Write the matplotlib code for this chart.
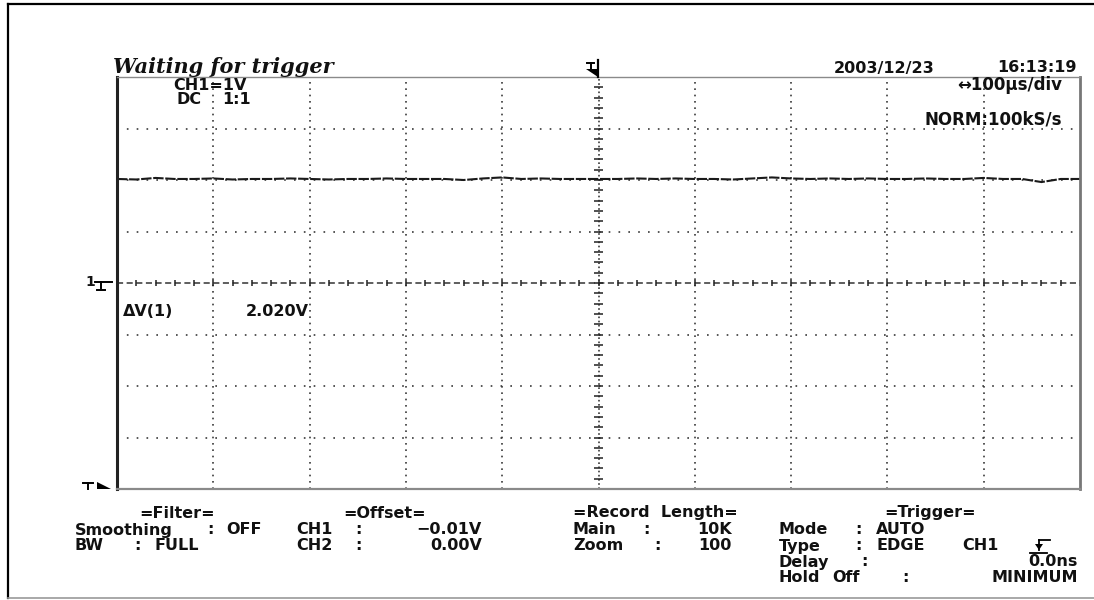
import matplotlib
matplotlib.use("Agg")
import matplotlib.pyplot as plt
from matplotlib.lines import Line2D
from matplotlib.patches import Polygon

# ---- captured record: CH1, 100 us/div, 1 V/div ----
time_us = list(range(-500, 501, 20))
ch1_volts = [
    2.02, 2.01, 2.04, 2.02, 2.02, 2.03, 2.01, 2.02, 2.02, 2.03,
    2.02, 2.01, 2.02, 2.02, 2.03, 2.02, 2.02, 2.02, 2.00, 2.03,
    2.05, 2.02, 2.03, 2.02, 2.02, 2.02, 2.02, 2.03, 2.02, 2.03,
    2.02, 2.02, 2.01, 2.03, 2.05, 2.03, 2.02, 2.03, 2.02, 2.03,
    2.02, 2.02, 2.03, 2.02, 2.02, 2.04, 2.02, 2.02, 1.96, 2.02,
    2.02,
]
delta_v_label = "2.020V"
time_per_div = 100      # us
volts_per_div = 1       # V
n_hdiv, n_vdiv = 10, 8

W, H = 1094, 600
fig = plt.figure(figsize=(W / 100, H / 100), dpi=100)
fig.patch.set_facecolor("white")


def fx(x):
    return x / W


def fy(y):
    return 1 - y / H


def fline(xs, ys, **kw):
    kw.setdefault("color", "black")
    kw.setdefault("lw", 1.2)
    fig.add_artist(Line2D([fx(x) for x in xs], [fy(y) for y in ys],
                          transform=fig.transFigure, **kw))


def ftri(pts, color="black"):
    fig.add_artist(Polygon([(fx(x), fy(y)) for x, y in pts], closed=True,
                           transform=fig.transFigure, color=color, lw=0))


FONT = "DejaVu Sans"
TS = 11.5


def ftext(x, y, s, ha="left", size=TS, family=FONT, **kw):
    fig.text(fx(x), fy(y), s, ha=ha, va="center", fontsize=size,
             family=family, fontweight="bold", color="#111111", **kw)


# ---- outer frame ----
fline([8, 1094], [4, 4], lw=1.6)
fline([8, 8], [4, 598], lw=1.6)
fline([8, 1094], [598, 598], lw=1.2, color="#9a9a9a")

# ---- graticule ----
L, R, T, B = 117, 1080, 77, 489
ax = fig.add_axes([fx(L), fy(B), (R - L) / W, (B - T) / H])
half_t = time_per_div * n_hdiv / 2
half_v = volts_per_div * n_vdiv / 2
ax.set_xlim(-half_t, half_t)
ax.set_ylim(-half_v, half_v)
ax.set_xticks([])
ax.set_yticks([])
ax.set_facecolor("white")
for side, (c, w) in {"left": ("#222222", 2.2), "top": ("#8a8a8a", 1.0),
                     "right": ("#777777", 2.0), "bottom": ("#8a8a8a", 1.6)}.items():
    ax.spines[side].set_color(c)
    ax.spines[side].set_linewidth(w)

grid_c = "#3a3a3a"
for k in range(1, n_hdiv):
    t = -half_t + k * time_per_div
    if t != 0:
        ax.axvline(t, color=grid_c, lw=1.2, linestyle=(0, (1.0, 2.8)))
for k in range(1, n_vdiv):
    v = -half_v + k * volts_per_div
    if v != 0:
        ax.axhline(v, color=grid_c, lw=1.2, linestyle=(0, (1.0, 4.9)))

# centre cross with 1/5-division ticks
ax.axvline(0, color=grid_c, lw=1.2, linestyle=(0, (1.0, 1.5)))
ax.axhline(0, color="#333333", lw=1.1, linestyle=(0, (4.0, 2.3)))
minor_v = [i * volts_per_div / 5 for i in range(-n_vdiv * 5 // 2, n_vdiv * 5 // 2 + 1)]
minor_t = [i * time_per_div / 5 for i in range(-n_hdiv * 5 // 2, n_hdiv * 5 // 2 + 1)]
ax.hlines(minor_v, -4.3, 4.3, color="#222222", lw=1.1)
ax.vlines(minor_t, -0.05, 0.05, color="#222222", lw=1.1)

# trace
ax.plot(time_us, ch1_volts, color="#1a1a1a", lw=1.5, dashes=(5, 0.8),
        solid_capstyle="round")

# ---- header ----
ftext(113, 67, "Waiting for trigger", size=15, style="italic",
      family="DejaVu Serif")
ftext(834, 68, "2003/12/23", size=11.5)
ftext(1077, 68, "16:13:19", ha="right", size=11.5)

# trigger position marker above the centre line
fline([598, 598], [60, 77], lw=1.6)
fline([587, 594], [63, 63], lw=1.4)
fline([590.5, 590.5], [63, 69], lw=1.4)
ftri([(586, 69), (598, 69), (598, 77)])

# ---- labels inside the graticule ----
ftext(210, 85, "CH1=1V", ha="center")
ftext(176, 100, "DC")
ftext(222, 100, "1:1")
ftext(1062, 85, "\u2194100\u03bcs/div", ha="right", size=12)
ftext(1062, 120, "NORM:100kS/s", ha="right", size=12)
ftext(123, 312, "\u0394V(1)")
ftext(246, 312, delta_v_label)

# channel 1 ground reference
ftext(85, 282, "1", size=10)
fline([95, 112], [282, 282], lw=1.4)
fline([101, 101], [282, 288], lw=1.4)
fline([97, 105], [290, 290], lw=1.4)

# trigger level marker
fline([83, 93], [483, 483], lw=1.4)
fline([88, 88], [483, 489], lw=1.4)
ftri([(97, 482), (97, 489), (111, 489)])

# ---- settings panel ----
r0, r1, r2, r3, r4 = 513, 530, 546, 562, 577
c_filter, c_offset, c_record, c_trig = 75, 296, 573, 779

ftext(177, r0, "=Filter=", ha="center")
ftext(c_filter, r1, "Smoothing")
ftext(210, r1, ":", ha="center")
ftext(226, r1, "OFF")
ftext(c_filter, r2, "BW")
ftext(137, r2, ":", ha="center")
ftext(155, r2, "FULL")

ftext(385, r0, "=Offset=", ha="center")
ftext(c_offset, r1, "CH1")
ftext(358, r1, ":", ha="center")
ftext(482, r1, "\u22120.01V", ha="right")
ftext(c_offset, r2, "CH2")
ftext(358, r2, ":", ha="center")
ftext(482, r2, "0.00V", ha="right")

ftext(655, r0, "=Record  Length=", ha="center")
ftext(c_record, r1, "Main")
ftext(646, r1, ":", ha="center")
ftext(732, r1, "10K", ha="right")
ftext(c_record, r2, "Zoom")
ftext(657, r2, ":", ha="center")
ftext(732, r2, "100", ha="right")

ftext(930, r0, "=Trigger=", ha="center")
ftext(c_trig, r1, "Mode")
ftext(858, r1, ":", ha="center")
ftext(876, r1, "AUTO")
ftext(c_trig, r2, "Type")
ftext(858, r2, ":", ha="center")
ftext(876, r2, "EDGE")
ftext(962, r2, "CH1")
ftext(c_trig, r3, "Delay")
ftext(864, r3, ":", ha="center")
ftext(1078, r3, "0.0ns", ha="right")
ftext(c_trig, r4, "Hold")
ftext(832, r4, "Off")
ftext(905, r4, ":", ha="center")
ftext(1078, r4, "MINIMUM", ha="right")

# falling-edge trigger symbol
fline([1030, 1047], [553, 553], lw=1.3)
fline([1039, 1039], [540, 550], lw=1.3)
fline([1039, 1050], [540, 540], lw=1.3)
ftri([(1035, 544), (1043, 544), (1039, 550)])

fig.savefig("out.png", dpi=100, facecolor="white")
